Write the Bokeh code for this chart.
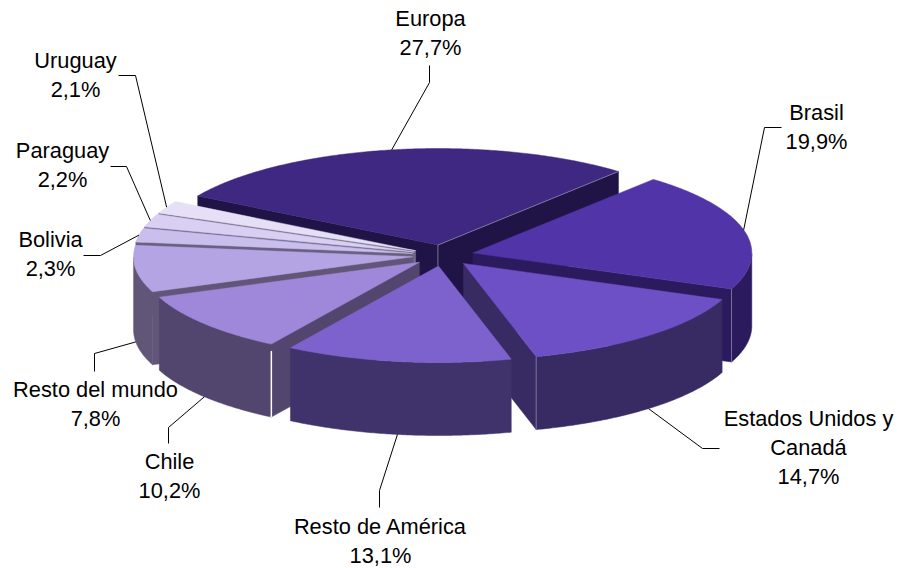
import math
from bokeh.plotting import figure
from bokeh.models import Range1d
from bokeh.core.properties import value
from bokeh.embed import file_html
from bokeh.resources import INLINE

# ---- data ----
categories = ["Europa", "Brasil", "Estados Unidos y Canadá", "Resto de América", "Chile",
              "Resto del mundo", "Bolivia", "Paraguay", "Uruguay"]
shares = [27.7, 19.9, 14.7, 13.1, 10.2, 7.8, 2.3, 2.2, 2.1]
pct_labels = ["27,7%", "19,9%", "14,7%", "13,1%", "10,2%", "7,8%", "2,3%", "2,2%", "2,1%"]
name_lines = [["Europa"], ["Brasil"], ["Estados Unidos y", "Canadá"], ["Resto de América"], ["Chile"],
              ["Resto del mundo"], ["Bolivia"], ["Paraguay"], ["Uruguay"]]
top_colors = ["#3F2882", "#5135A8", "#6E50C6", "#7D62CE", "#9F88D9", "#B5A4E4", "#C9BEEC", "#D8CFF2", "#E6E0F7"]
side_colors = ["#201345", "#2B1A5E", "#382A63", "#40326A", "#52466E", "#625678", "#6A6082", "#6E6688", "#74708C"]

# ---- layout ----
W, H = 897, 568
CX, CY, RX, RY, DEPTH, EXPLODE, START = 442.5, 255.0, 279.0, 96.5, 73.0, 0.11, 149.4
FONT = "Liberation Sans"; FS = "21.8px"
label_pos = [(430, 18), (816, 112), (808, 418), (380, 526), (169, 461), (95, 389), (50, 239), (62, 150), (75, 60)]
elbows = [(429, 82), (764, 127), (702, 448), (379, 490), (168, 427), (94, 353), (100, 255), (126, 166), (135, 75)]
ends = [(429, 65), (781, 127), (719, 448), (379, 507), (168, 443), (94, 371), (83, 255), (110, 166), (118, 75)]
LINE_GAP = 29

p = figure(width=W, height=H, output_backend="svg", toolbar_location=None, min_border=0,
           x_range=Range1d(0, W), y_range=Range1d(H, 0))
p.axis.visible = False
p.grid.visible = False
p.outline_line_color = None
p.background_fill_color = "#FFFFFF"
p.border_fill_color = "#FFFFFF"

def pt(ax, ay, deg, drop=0.0):
    t = math.radians(deg)
    return ax + RX * math.cos(t), ay - RY * math.sin(t) + drop

slices = []
a = START
for i, v in enumerate(shares):
    sweep = v * 3.6
    s, e = a, a - sweep
    mid = (s + e) / 2
    ax = CX + EXPLODE * RX * math.cos(math.radians(mid))
    ay = CY - EXPLODE * RY * math.sin(math.radians(mid))
    slices.append(dict(i=i, s=s, e=e, mid=mid, ax=ax, ay=ay))
    a = e

order = sorted(slices, key=lambda q: -math.sin(math.radians(q["mid"])))

xs, ys, cols = [], [], []
def add(poly, col):
    xs.append([c[0] for c in poly]); ys.append([c[1] for c in poly]); cols.append(col)

for q in order:
    i, s, e, ax, ay = q["i"], q["s"], q["e"], q["ax"], q["ay"]
    for edge, visible in ((s, math.cos(math.radians(s)) < 0), (e, math.cos(math.radians(e)) > 0)):
        if visible:
            o = pt(ax, ay, edge)
            add([(ax, ay), o, (o[0], o[1] + DEPTH), (ax, ay + DEPTH)], side_colors[i])
    n = max(int((s - e) * 2), 2)
    arc = [s - (s - e) * k / n for k in range(n + 1)]
    near = [d for d in arc if math.sin(math.radians(d)) <= 0]
    if len(near) > 1:
        add([pt(ax, ay, d) for d in near] + [pt(ax, ay, d, DEPTH) for d in reversed(near)], side_colors[i])
    add([(ax, ay)] + [pt(ax, ay, d) for d in arc], top_colors[i])

p.patches(xs, ys, fill_color=cols, line_color=cols, line_width=0.5)

# thin light corner lines that the 3-D rendering leaves on the walls
hx, hy = [], []
eu, br, us, am, cl = slices[0], slices[1], slices[2], slices[3], slices[4]
for q, deg in ((br, br["e"]), (us, us["e"])):
    o = pt(q["ax"], q["ay"], deg)
    hx.append([o[0], o[0]]); hy.append([o[1], o[1] + DEPTH])
o = pt(eu["ax"], eu["ay"], eu["e"])
hx.append([eu["ax"], o[0]]); hy.append([eu["ay"], o[1]])
hx.append([eu["ax"], eu["ax"]]); hy.append([eu["ay"], am["ay"]])
p.multi_line(hx, hy, line_color="#8C84A8", line_width=0.8)
o = pt(cl["ax"], cl["ay"], cl["s"])
p.line([o[0], o[0]], [o[1] + 7, o[1] + DEPTH], line_color="#FFFFFF", line_width=1.5)

# leaders
lx, ly = [], []
for q in slices:
    i = q["i"]
    near = math.sin(math.radians(q["mid"])) < -0.1 or i == 5
    start = pt(q["ax"], q["ay"], q["mid"], DEPTH if near else 0)
    lx.append([start[0], elbows[i][0], ends[i][0]])
    ly.append([start[1], elbows[i][1], ends[i][1]])
p.multi_line(lx, ly, line_color="#000000", line_width=1)

# labels
tx, ty, tt = [], [], []
for i, lines in enumerate(name_lines):
    x0, y0 = label_pos[i]
    for k, t in enumerate(lines + [pct_labels[i]]):
        tx.append(x0); ty.append(y0 + k * LINE_GAP); tt.append(t)
p.text(tx, ty, text=tt, text_font=value(FONT), text_font_size=value(FS), text_color="#000000",
       text_align="center", text_baseline="middle")

open("out.html", "w").write(file_html(p, INLINE))
